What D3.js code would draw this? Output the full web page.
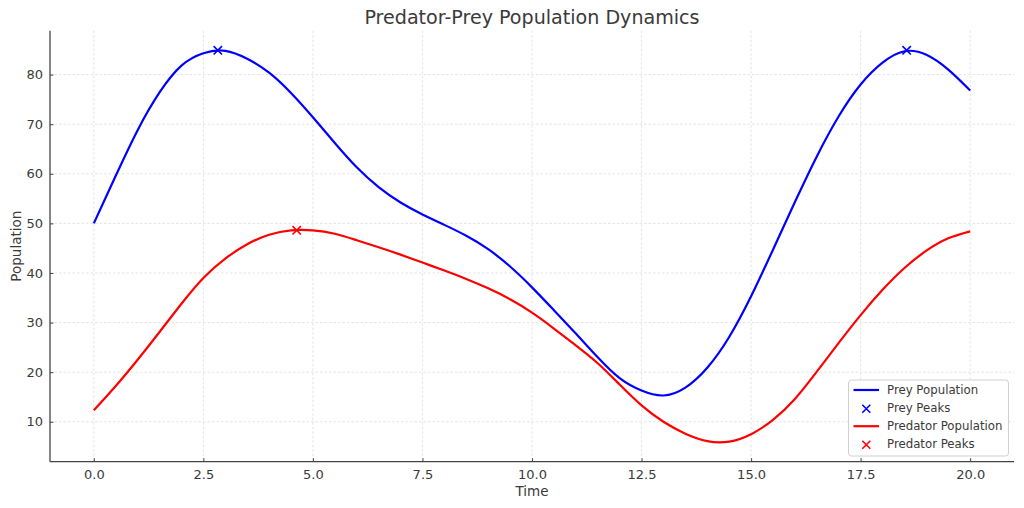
<!DOCTYPE html>
<html>
<head>
<meta charset="utf-8">
<script src="https://cdn.jsdelivr.net/npm/d3@7"></script>
<style>
  html, body { margin: 0; padding: 0; background: #fff; }
  svg { display: block; font-family: "DejaVu Sans", sans-serif; }
</style>
</head>
<body>
<svg id="chart" width="1024" height="508"></svg>
<script>
// ---- data ----
const time = [0,0.5,1,1.5,2,2.5,3,3.5,4,4.5,5,5.5,6,6.5,7,7.5,8,8.5,9,9.5,10,10.5,11,11.5,12,12.5,13,13.5,14,14.5,15,15.5,16,16.5,17,17.5,18,18.5,19,19.5,20];
const prey = [50,59.6,68.8,76.4,81.8,84.3,84.8,83.2,80.4,76.3,71.4,66.2,61.3,57.3,54.2,51.8,49.7,47.5,44.8,41.3,37.1,32.5,27.8,23.0,18.8,16.3,15.3,16.9,20.9,27.1,35.3,44.7,54.3,63.5,71.6,78.0,82.4,84.7,84.0,81.0,76.8];
const predator = [12.3,17.2,22.5,28.1,33.8,39.0,42.9,45.8,47.7,48.6,48.6,47.9,46.6,45.2,43.7,42.1,40.5,38.8,36.9,34.7,32.0,28.8,25.4,21.8,17.5,13.3,10.0,7.6,6.1,6.0,7.5,10.4,14.6,20.1,25.9,31.5,36.6,41.0,44.5,47.0,48.4];
const preyPeakTime = [2.83, 18.55];
const preyPeakValue = [84.9, 84.9];
const predatorPeakTime = [4.63];
const predatorPeakValue = [48.6];
const xTicks = [0,2.5,5,7.5,10,12.5,15,17.5,20];
const yTicks = [10,20,30,40,50,60,70,80];
const legendLabels = ["Prey Population","Prey Peaks","Predator Population","Predator Peaks"];

// ---- layout ----
const svg = d3.select("#chart");
const L = 50, R = 1014, T = 30.7, B = 461.7;
const x = d3.scaleLinear().domain([-1, 21]).range([L, R]);
const y = d3.scaleLinear().domain([1.95, 88.85]).range([B, T]);
const textColor = "#3a3a3a";

// grid
const grid = svg.append("g");
grid.selectAll(".gx").data(xTicks).enter().append("line")
  .attr("x1", d => x(d)).attr("x2", d => x(d)).attr("y1", T).attr("y2", B)
  .attr("stroke", "#d9d9d9").attr("stroke-width", 0.7).attr("stroke-dasharray", "2.5,2");
grid.selectAll(".gy").data(yTicks).enter().append("line")
  .attr("x1", L).attr("x2", R).attr("y1", d => y(d)).attr("y2", d => y(d))
  .attr("stroke", "#d9d9d9").attr("stroke-width", 0.7).attr("stroke-dasharray", "2.5,2");

// axes
const xAxis = svg.append("g").attr("transform", `translate(0,${B})`)
  .call(d3.axisBottom(x).tickValues(xTicks).tickFormat(d3.format(".1f")).tickSizeInner(-3.5).tickSizeOuter(0).tickPadding(8));
const yAxis = svg.append("g").attr("transform", `translate(${L},0)`)
  .call(d3.axisLeft(y).tickValues(yTicks).tickFormat(d3.format("d")).tickSizeInner(-3.5).tickSizeOuter(0).tickPadding(7));
[xAxis, yAxis].forEach(a => {
  a.select(".domain").attr("stroke", "#444").attr("stroke-width", 1.3);
  a.selectAll(".tick line").attr("stroke", "#444").attr("stroke-width", 1);
  a.selectAll(".tick text").attr("fill", textColor).attr("font-size", 13)
    .attr("font-family", "DejaVu Sans");
});
xAxis.select(".domain").attr("d", `M${L},0H${R}`);
yAxis.select(".domain").attr("d", `M0,${B}V${T}`);

// lines
const line = d3.line().x((d, i) => x(time[i])).y(d => y(d)).curve(d3.curveNatural);
svg.append("path").datum(prey).attr("d", line).attr("fill", "none")
  .attr("stroke", "#0000ff").attr("stroke-width", 2.2).attr("stroke-linejoin", "round");
svg.append("path").datum(predator).attr("d", line).attr("fill", "none")
  .attr("stroke", "#ff0000").attr("stroke-width", 2.2).attr("stroke-linejoin", "round");

// markers
function cross(g, cx, cy, color, s) {
  g.append("path").attr("d", `M${cx-s},${cy-s}L${cx+s},${cy+s}M${cx-s},${cy+s}L${cx+s},${cy-s}`)
    .attr("stroke", color).attr("stroke-width", 1.6).attr("fill", "none");
}
const mk = svg.append("g");
preyPeakTime.forEach((t, i) => cross(mk, x(t), y(preyPeakValue[i]), "#0000ff", 4.2));
predatorPeakTime.forEach((t, i) => cross(mk, x(t), y(predatorPeakValue[i]), "#ff0000", 4.2));

// title and labels
svg.append("text").attr("x", (L + R) / 2).attr("y", 23.5).attr("text-anchor", "middle")
  .attr("font-size", 19.1).attr("fill", textColor).text("Predator-Prey Population Dynamics");
svg.append("text").attr("x", (L + R) / 2).attr("y", 496).attr("text-anchor", "middle")
  .attr("font-size", 13.5).attr("fill", textColor).text("Time");
svg.append("text").attr("transform", `translate(20.5,${(T + B) / 2}) rotate(-90)`).attr("text-anchor", "middle")
  .attr("font-size", 13.5).attr("fill", textColor).text("Population");

// legend
const lg = svg.append("g");
lg.append("rect").attr("x", 848.5).attr("y", 380).attr("width", 160).attr("height", 76)
  .attr("rx", 3).attr("fill", "#fff").attr("fill-opacity", 0.85).attr("stroke", "#d0d0d0").attr("stroke-width", 1);
const rowsY = [390, 408.3, 426.2, 444.3];
const kinds = ["line", "mark", "line", "mark"];
const colors = ["#0000ff", "#0000ff", "#ff0000", "#ff0000"];
legendLabels.forEach((lab, i) => {
  if (kinds[i] === "line") {
    lg.append("line").attr("x1", 853.5).attr("x2", 879).attr("y1", rowsY[i]).attr("y2", rowsY[i])
      .attr("stroke", colors[i]).attr("stroke-width", 2.2);
  } else {
    cross(lg, 866.3, rowsY[i] + 0.5, colors[i], 4);
  }
  lg.append("text").attr("x", 887).attr("y", rowsY[i]).attr("dy", "0.35em")
    .attr("font-size", 11.75).attr("fill", textColor).text(lab);
});
</script>
</body>
</html>
